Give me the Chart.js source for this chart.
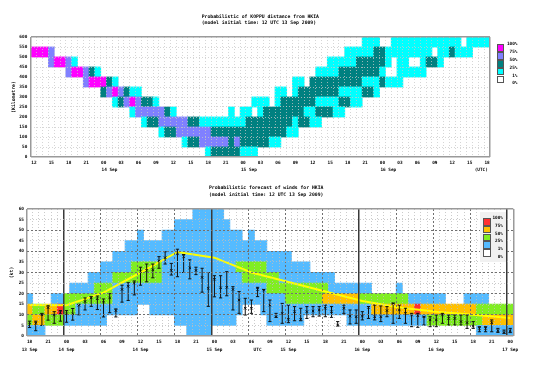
<!DOCTYPE html>
<html><head><meta charset="utf-8">
<script src="https://cdn.jsdelivr.net/npm/chart.js@4.4.1/dist/chart.umd.min.js"></script>
<style>
html,body{margin:0;padding:0;background:#fff;width:542px;height:376px;overflow:hidden;}
#wrap{position:relative;width:542px;height:376px;}
canvas{position:absolute;left:0;}
.t{position:absolute;font-family:'DejaVu Sans Mono',monospace;font-weight:bold;color:#000;white-space:pre;}
.box{position:absolute;box-sizing:border-box;border:0.8px solid #555;}
</style></head><body>
<div id="wrap">
<canvas id="cTop" width="542" height="180" style="top:0px"></canvas>
<canvas id="cBot" width="542" height="196" style="top:180px"></canvas>
<div class="t" style="left:201.7px;top:14px;font-size:4.75px;line-height:6px;">Probabilistic of KOPPU distance from HKIA
(model initial time: 12 UTC 13 Sep 2009)</div>
<div class="t" style="left:209px;top:185px;font-size:4.75px;line-height:6.7px;">Probabilistic forecast of winds for HKIA
(model initial time: 12 UTC 13 Sep 2009)</div>
<div id="legTop"></div>
<div id="legBot"></div>
</div>
<script>
// ---------------- DATA ----------------
// Top chart: distance bands (km) and hourly columns from 12 UTC 13 Sep to 18 UTC 16 Sep
const kmBands = [0,50,100,150,200,250,300,350,400,450,500,550];
// runs per band: [level, firstHour, lastHour]; C=1-25%, T=25-50%, L=50-75%, M=75-100%
const kmRuns = [
 [['C',30,30],['T',31,35],['C',36,38]],
 [['C',26,26],['T',27,28],['L',29,33],['T',34,34],['L',35,35],['T',36,40],['C',41,42]],
 [['C',22,22],['T',23,24],['L',25,30],['T',31,43],['C',44,45]],
 [['C',19,19],['T',20,21],['L',22,26],['T',27,28],['C',29,36],['T',37,44],['C',45,45],['T',46,47],['C',48,49]],
 [['C',17,17],['L',18,22],['T',23,23],['C',24,24],['C',34,34],['C',36,37],['C',39,39],['T',40,46],['C',47,48],['T',49,51],['C',52,53]],
 [['C',14,14],['T',15,15],['L',16,16],['M',17,17],['L',18,18],['T',19,20],['C',21,21],['C',38,40],['C',42,42],['T',43,48],['C',49,52],['T',53,54],['C',55,56]],
 [['T',12,12],['L',13,13],['M',14,14],['L',15,15],['T',16,16],['C',17,18],['C',42,43],['C',45,45],['T',46,52],['C',53,56],['T',57,58],['C',59,59]],
 [['L',9,9],['M',10,12],['T',13,13],['C',14,14],['C',45,46],['T',48,56],['C',57,59],['T',60,60],['C',61,63]],
 [['L',6,6],['M',7,8],['L',9,9],['T',10,10],['C',11,11],['C',49,52],['T',53,59],['C',60,60],['C',63,67]],
 [['L',3,3],['M',4,5],['L',6,6],['C',7,7],['C',51,55],['T',56,60],['C',61,61],['C',63,64],['C',67,67],['T',68,69],['C',70,70]],
 [['M',0,2],['L',3,3],['C',54,58],['T',59,60],['C',61,68],['C',70,71],['T',72,72],['C',73,75]],
 [['C',57,59],['C',62,73],['C',75,78]]
];
const kmTickText = ['12','15','18','21','00','03','06','09','12','15','18','21','00','03','06','09','12','15','18','21','00','03','06','09','12','15','18'];
const kmDateCols = [13,37,61,77];
const kmDateText = ['14 Sep','15 Sep','16 Sep','(UTC)'];

// Bottom chart: wind bands (kt) and hourly columns from 18 UTC 13 Sep to 00 UTC 17 Sep
const ktBands = [0,5,10,15,20,25,30,35,40,45,50,55];
// B=1-25%, G=25-50%, O=50-75%, R=75-100%
const ktRuns = [
 [['B',0,2],['B',26,29],['B',73,78]],
 [['G',0,0],['O',1,2],['G',3,5],['B',6,12],['B',24,33],['B',39,44],['B',52,64],['G',65,73],['O',74,78]],
 [['O',0,0],['G',1,2],['O',3,4],['R',5,5],['G',6,7],['B',8,17],['B',20,34],['B',38,55],['O',56,62],['R',63,63],['O',64,72],['G',73,78]],
 [['B',0,0],['B',4,5],['G',6,13],['B',14,41],['G',42,47],['O',48,53],['G',54,61],['B',62,67],['B',71,74]],
 [['B',7,10],['G',11,13],['B',14,38],['G',39,48],['B',49,55],['B',60,60]],
 [['B',10,13],['G',14,21],['B',22,34],['G',35,40],['B',41,49]],
 [['B',12,16],['G',17,21],['B',22,33],['G',34,38],['B',39,45]],
 [['B',14,42]],
 [['B',16,38]],
 [['B',18,18],['B',22,34],['B',36,36]],
 [['B',24,32]],
 [['B',27,31]]
];
const windMin = [4,2.5,5,7.5,6,7,6.5,7.5,10,12.3,14,12.5,9,11,9,16,16.8,19.4,24,25.6,27.5,32,34,28.8,28,30,27,29,20.7,14,18.5,18,19,12.3,10.7,9.9,10.7,18.6,11.5,6.8,8.8,6,6.3,7.2,7.2,8.3,9.1,9.4,9.1,8.8,4.7,10.7,5.7,6,7.6,8.3,7.6,6.8,9.1,6,8.3,6,4.4,4.1,5.2,4.4,4.4,6,5.2,5.2,5.2,3.6,3.6,2,2,2,1.7,1.3,1.6];
const windMid = [5.5,6,10,13.4,9.9,11,10.5,10.5,14.5,16.3,18,17.6,16,18,12,22,23.5,25,30.4,31,31.3,35.5,37,31,38.8,37.5,32.2,31,27.7,22.5,26.8,22.8,23,22,17,13.1,13.1,22,21.7,14.6,9.1,10.7,7.9,11.5,7.9,11.5,11.8,12.3,13.1,11.5,5.2,13.1,9.4,9.1,9.4,13.5,9.1,9.1,12,15.4,12.3,10.7,9.9,9.6,9.1,7.6,7.6,9.9,8.3,8.3,6.8,6.3,4.7,3.6,3.6,6.3,2.5,1.6,2.4];
const windMax = [7,7,10.7,14.3,11.5,12,12,13,15,18,18.6,18.9,17.5,20,12.8,24,25.2,26,32.5,34,34,37.5,39.8,34.3,41,38.5,36,32.5,32,30,28.5,28.5,30.4,23.3,21,17.8,17,23,22,17,10.7,15.4,14.6,13.9,13.1,13.9,13.9,13.9,14.6,13.9,6.8,14.6,12.3,12.3,11.5,13.9,14.6,14.2,13.9,15.4,14.6,13.1,10.7,10.7,9.1,9.1,9.9,10.7,9.9,9.9,9.9,9.9,6.8,4.4,4.4,7.6,3.6,2.8,3.6];
const meanHour = [0,6,12,18,24,30,36,42,48,54,60,66,72,78];
const meanKt = [14.6,14.5,20.5,30,39.7,37,30,25.5,21,16.5,13.5,11.5,10,8.5];
const ktTickText = ['18','21','00','03','06','09','12','15','18','21','00','03','06','09','12','15','18','21','00','03','06','09','12','15','18','21','00'];
const ktDateCols = [0,6,18,30,37,42,54,66,78];
const ktDateText = ['13 Sep','14 Sep','14 Sep','15 Sep','UTC','15 Sep','16 Sep','16 Sep','17 Sep'];

// ---------------- STYLE ----------------
const N = 79;
const topPal = {C:'#00ffff', T:'#008080', L:'#8080ff', M:'#ff00ff'};
const botPal = {B:'#55bbff', G:'#80ee22', O:'#ffc000', R:'#ff3030'};
const FONT = "'DejaVu Sans Mono', monospace";

function heatSets(bands, runs, step, pal){
  return runs.map((row, b) => {
    const data = new Array(N).fill(null);
    const bg = new Array(N).fill('rgba(0,0,0,0)');
    row.forEach(([lv, s, e]) => { for (let i = s; i <= e; i++) { data[i] = [bands[b], bands[b] + step]; bg[i] = pal[lv]; } });
    return {type:'bar', data, backgroundColor:bg, borderWidth:0, grouped:false,
            barPercentage:1, categoryPercentage:1, inflateAmount:0.4, order:10};
  });
}
function tickCb(tickText, dateCols, dateText){
  return function(v, i){
    const a = (i % 3 === 0) ? tickText[i/3] : '';
    const k = dateCols.indexOf(i);
    if (k >= 0) return [a, dateText[k]];
    return a;
  };
}
const cats = Array.from({length:N}, (_, i) => 'h' + i);

Chart.defaults.font.family = FONT;

// ---------------- TOP CHART ----------------
new Chart(document.getElementById('cTop'), {
  type:'bar',
  data:{ labels:cats, datasets: heatSets(kmBands, kmRuns, 50, topPal) },
  options:{
    responsive:false, animation:false, events:[],
    layout:{padding:{left:0, right:52, top:37, bottom:0}},
    plugins:{legend:{display:false}, tooltip:{enabled:false}},
    scales:{
      x:{ type:'category', offset:true,
          grid:{offset:true, drawTicks:false, z:1,
                color:c => (c.index === undefined || c.index === 0) ? '#9a9a9a' : 'rgba(200,200,200,0.75)',
                lineWidth:c => (c.index === undefined || c.index === 0) ? 1.5 : 1},
          border:{display:false, dash:c => (c.index === undefined || c.index === 0) ? [] : [1,2]},
          ticks:{autoSkip:false, maxRotation:0, minRotation:0, padding:3, color:'#000',
                 font:{size:4.4, weight:'bold', lineHeight:'6.7px'},
                 callback: tickCb(kmTickText, kmDateCols, kmDateText)},
          afterFit:s => { s.height = 23; } },
      y:{ type:'linear', min:0, max:600,
          grid:{drawTicks:false, z:1,
                color:c => (c.index === 0 || c.index === 12) ? '#9a9a9a' : 'rgba(200,200,200,0.75)',
                lineWidth:c => (c.index === 0 || c.index === 12) ? 1.5 : 1},
          border:{display:false, dash:c => (c.index === 0 || c.index === 12) ? [] : [1,2]},
          ticks:{stepSize:50, autoSkip:false, padding:3.7, color:'#000', font:{size:4.4, weight:'bold'}},
          title:{display:true, text:'(Kilometre)', color:'#000', padding:{top:11, bottom:0},
                 font:{size:4.8, weight:'bold', lineHeight:1.2}},
          afterFit:s => { s.width = 31; } }
    }
  }
});

// ---------------- BOTTOM CHART ----------------
const meanSeries = new Array(N).fill(null);
meanHour.forEach((h, i) => { meanSeries[h] = meanKt[i]; });
const errSets = [
  {type:'line', data:windMid, showLine:false, pointStyle:'crossRot', pointRadius:1.7, pointBorderWidth:1,
   borderColor:'#111', pointBorderColor:'#111', backgroundColor:'#111', order:0},
  {type:'line', data:windMin, showLine:false, pointStyle:'line', pointRadius:1.6, pointBorderWidth:1,
   borderColor:'#111', pointBorderColor:'#111', order:1},
  {type:'line', data:windMax, showLine:false, pointStyle:'line', pointRadius:1.6, pointBorderWidth:1,
   borderColor:'#111', pointBorderColor:'#111', order:1},
  {type:'bar', data:windMin.map((lo, i) => [lo, windMax[i]]), backgroundColor:'#111', borderWidth:0,
   barThickness:1, grouped:false, inflateAmount:0, order:2},
  {type:'line', data:meanSeries, spanGaps:true, borderColor:'#ffff00', borderWidth:2, pointRadius:0,
   tension:0, order:3}
];
function botColX(c){ const i = c.index === undefined ? 79 : c.index;
  if (i === 0 || i === 79) return 'frame'; if ((i - 6) % 24 === 0) return 'day'; if (i % 6 === 0) return 'six'; return 'hr'; }
function botColY(c){ const v = c.tick ? c.tick.value : 0;
  if (v === 0 || v === 60) return 'frame'; if (v % 10 === 0) return 'ten'; return 'five'; }
const gc = {frame:'#9a9a9a', day:'#3a3a3a', six:'#707070', hr:'rgba(190,190,190,0.8)', ten:'#707070', five:'rgba(190,190,190,0.8)'};
const gw = {frame:1.5, day:1.5, six:1, hr:1, ten:1, five:1};
const gd = {frame:[], day:[], six:[2,2], hr:[1,2], ten:[2,2], five:[1,2]};

new Chart(document.getElementById('cBot'), {
  type:'bar',
  data:{ labels:cats, datasets: errSets.concat(heatSets(ktBands, ktRuns, 5, botPal)) },
  options:{
    responsive:false, animation:false, events:[],
    layout:{padding:{left:0, right:28.7, top:29, bottom:0}},
    plugins:{legend:{display:false}, tooltip:{enabled:false}},
    scales:{
      x:{ type:'category', offset:true,
          grid:{offset:true, drawTicks:false, z:1, color:c => gc[botColX(c)], lineWidth:c => gw[botColX(c)]},
          border:{display:false, dash:c => gd[botColX(c)]},
          ticks:{autoSkip:false, maxRotation:0, minRotation:0, padding:2, color:'#000',
                 font:{size:4.4, weight:'bold', lineHeight:'7.7px'},
                 callback: tickCb(ktTickText, ktDateCols, ktDateText)},
          afterFit:s => { s.height = 40; } },
      y:{ type:'linear', min:0, max:60,
          grid:{drawTicks:false, z:1, color:c => gc[botColY(c)], lineWidth:c => gw[botColY(c)]},
          border:{display:false, dash:c => gd[botColY(c)]},
          ticks:{stepSize:5, autoSkip:false, padding:2.5, color:'#000', font:{size:4.4, weight:'bold'}},
          title:{display:true, text:'(kt)', color:'#000', padding:{top:8.4, bottom:0},
                 font:{size:4.8, weight:'bold', lineHeight:1.2}},
          afterFit:s => { s.width = 26.5; } }
    }
  }
});

// ---------------- LEGENDS (HTML) ----------------
function buildLegend(el, x, y0, w, h, colors, labels, labelRight, panel){
  let html = '';
  if (panel) html += `<div style="position:absolute;left:${panel[0]}px;top:${panel[1]}px;width:${panel[2]}px;height:${panel[3]}px;background:#f1f1f1;"></div>`;
  colors.forEach((c, i) => {
    html += `<div class="box" style="left:${x}px;top:${y0 + i*h}px;width:${w}px;height:${h}px;background:${c};"></div>`;
  });
  labels.forEach((t, i) => {
    html += `<div class="t" style="right:${542 - labelRight}px;top:${y0 + i*h - 3}px;font-size:4.4px;line-height:6px;text-align:right;">${t}</div>`;
  });
  el.innerHTML = html;
}
const legLabels = ['100%','75%','50%','25%','1%','0%'];
buildLegend(document.getElementById('legTop'), 497, 44.3, 7.3, 7.8,
  [topPal.M, topPal.L, topPal.T, topPal.C, '#ffffff'], legLabels, 517.5, null);
buildLegend(document.getElementById('legBot'), 483, 217.7, 8, 7.9,
  [botPal.R, botPal.O, botPal.G, botPal.B, '#ffffff'], legLabels, 503, [480, 212, 26, 50]);
</script>
</body></html>
